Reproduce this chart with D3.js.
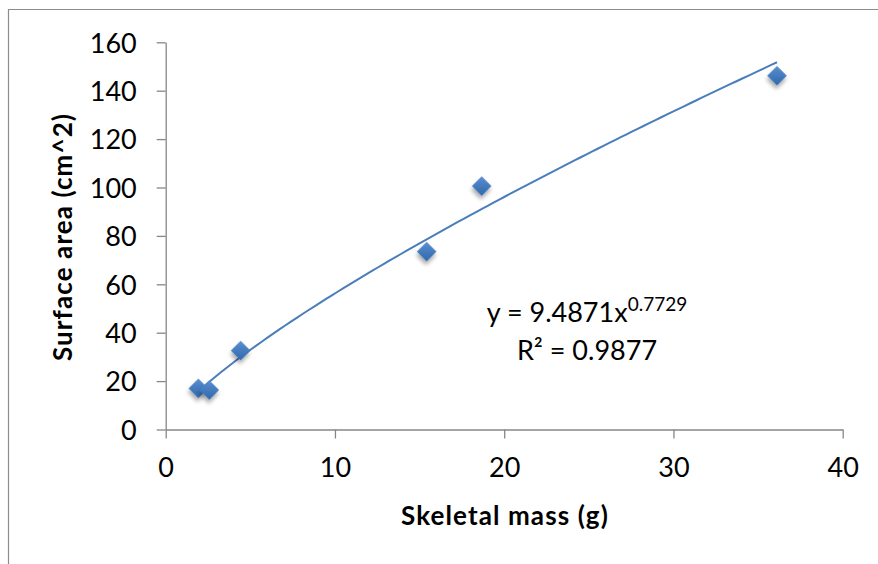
<!DOCTYPE html>
<html>
<head>
<meta charset="utf-8">
<script src="https://cdn.jsdelivr.net/npm/d3@7"></script>
<style>
  html, body { margin: 0; padding: 0; background: #fff; }
  text { font-family: Lato, "Open Sans", sans-serif; fill: #000; }
</style>
</head>
<body>
<div id="chart"></div>
<script>
// data
const massValues = [1.93, 2.58, 4.43, 15.42, 18.67, 36.12];
const areaValues = [17.0, 16.3, 32.6, 73.5, 100.6, 146.2];
const xTicks = [0, 10, 20, 30, 40];
const yTicks = [0, 20, 40, 60, 80, 100, 120, 140, 160];
// power trendline as printed on the chart
const fitCoef = 9.4871;
const fitExp = 0.7729;
const fitR2 = 0.9877;

const width = 878, height = 564;
const plot = { left: 165.7, right: 842.7, top: 42.3, bottom: 429.5 };
const blue = "#4a7ebb";
const axisGrey = "#878787";

const svg = d3.select("#chart")
    .append("svg")
    .attr("width", width)
    .attr("height", height);

// drop shadow for the markers
const defs = svg.append("defs");
const shadow = defs.append("filter")
    .attr("id", "shadow")
    .attr("x", "-50%").attr("y", "-50%")
    .attr("width", "200%").attr("height", "200%");
shadow.append("feDropShadow")
    .attr("dx", 2).attr("dy", 3)
    .attr("stdDeviation", 2)
    .attr("flood-color", "#000")
    .attr("flood-opacity", 0.35);

const grad = defs.append("linearGradient")
    .attr("id", "markerFill")
    .attr("x1", 0).attr("y1", 0).attr("x2", 1).attr("y2", 1);
grad.append("stop").attr("offset", "0%").attr("stop-color", "#5a8ed0");
grad.append("stop").attr("offset", "100%").attr("stop-color", "#2f68ad");

// outer chart border (top and left only visible)
svg.append("path")
    .attr("d", "M8.5," + height + "V9.5H" + width)
    .attr("fill", "none")
    .attr("stroke", "#8c8c8c")
    .attr("stroke-width", 1.2);

const x = d3.scaleLinear().domain([0, 40]).range([plot.left, plot.right]);
const y = d3.scaleLinear().domain([0, 160]).range([plot.bottom, plot.top]);

// axes
const xAxis = svg.append("g")
    .attr("transform", `translate(0,${plot.bottom})`)
    .call(d3.axisBottom(x).tickValues(xTicks).tickSize(9).tickSizeOuter(0).tickPadding(19));
const yAxis = svg.append("g")
    .attr("transform", `translate(${plot.left},0)`)
    .call(d3.axisLeft(y).tickValues(yTicks).tickSize(9).tickSizeOuter(0).tickPadding(20));

[xAxis, yAxis].forEach(g => {
  g.select(".domain").attr("stroke", axisGrey).attr("stroke-width", 1.3);
  g.selectAll(".tick line").attr("stroke", axisGrey).attr("stroke-width", 1.3);
  g.selectAll(".tick text")
      .attr("font-family", "Lato, 'Open Sans', sans-serif")
      .attr("font-size", 27)
      .attr("fill", "#000");
});
xAxis.selectAll(".tick text").attr("dy", "0.71em");
yAxis.selectAll(".tick text").attr("dy", "0.36em");

// axis titles
svg.append("text")
    .attr("x", 505)
    .attr("y", 525)
    .attr("text-anchor", "middle")
    .attr("font-size", 26)
    .attr("font-weight", "bold")
    .attr("letter-spacing", 1.1)
    .text("Skeletal mass (g)");

svg.append("text")
    .attr("transform", "translate(72,237) rotate(-90)")
    .attr("text-anchor", "middle")
    .attr("font-size", 26)
    .attr("font-weight", "bold")
    .attr("letter-spacing", 1.1)
    .text("Surface area (cm^2)");

// trendline y = a x^b across the data range
const [xMin, xMax] = d3.extent(massValues);
const fitPoints = d3.range(0, 101).map(i => {
  const xv = xMin + (xMax - xMin) * i / 100;
  return [xv, fitCoef * Math.pow(xv, fitExp)];
});
svg.append("path")
    .datum(fitPoints)
    .attr("fill", "none")
    .attr("stroke", blue)
    .attr("stroke-width", 2)
    .attr("d", d3.line().x(d => x(d[0])).y(d => y(d[1])));

// markers: square rotated 45 degrees
const points = massValues.map((m, i) => ({ mass: m, area: areaValues[i] }));
svg.append("g")
    .selectAll("path")
    .data(points)
    .join("path")
    .attr("d", d3.symbol(d3.symbolSquare, 190))
    .attr("transform", d => `translate(${x(d.mass)},${y(d.area)}) rotate(45)`)
    .attr("fill", "url(#markerFill)")
    .attr("filter", "url(#shadow)");

// equation label
const eq = svg.append("text")
    .attr("x", 587)
    .attr("y", 322)
    .attr("text-anchor", "middle")
    .attr("font-size", 27);
eq.append("tspan").text(`y = ${fitCoef}x`);
eq.append("tspan")
    .attr("font-size", 19)
    .attr("dy", -11)
    .text(fitExp);

svg.append("text")
    .attr("x", 587)
    .attr("y", 360)
    .attr("text-anchor", "middle")
    .attr("font-size", 27)
    .text(`R² = ${fitR2}`);
</script>
</body>
</html>
